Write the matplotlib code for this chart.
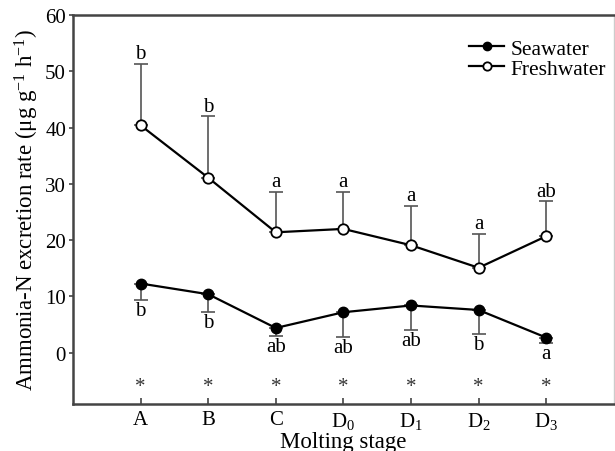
import matplotlib
matplotlib.use("Agg")
import matplotlib.pyplot as plt
import numpy as np

stages = ["A", "B", "C", r"D$_0$", r"D$_1$", r"D$_2$", r"D$_3$"]
fresh = [40.4, 31.1, 21.4, 22.0, 19.1, 15.1, 20.7]
fresh_err = [10.9, 10.9, 7.2, 6.6, 7.0, 6.0, 6.2]
sea = [12.3, 10.4, 4.4, 7.2, 8.4, 7.6, 2.7]
sea_err = [2.9, 3.1, 1.4, 4.4, 4.4, 4.3, 1.0]
fresh_letters = ["b", "b", "a", "a", "a", "a", "ab"]
sea_letters = ["b", "b", "ab", "ab", "ab", "b", "a"]
star_y = -6.0

plt.rcParams["font.family"] = ["Liberation Serif", "DejaVu Serif"]
plt.rcParams["mathtext.fontset"] = "custom"
plt.rcParams["mathtext.rm"] = "Liberation Serif"
plt.rcParams["mathtext.it"] = "Liberation Serif:italic"
plt.rcParams["mathtext.default"] = "regular"

fig = plt.figure(figsize=(6.15, 4.52), dpi=100)
ax = fig.add_axes([0.1187, 0.104, 0.8793, 0.8606])

x = np.arange(1, len(stages) + 1)
errc = "#555555"

ax.errorbar(x, fresh, yerr=[np.zeros(len(x)), fresh_err], fmt="none",
            ecolor=errc, elinewidth=1.2, capsize=5, capthick=1.2, zorder=1)
ax.errorbar(x, sea, yerr=[sea_err, np.zeros(len(x))], fmt="none",
            ecolor=errc, elinewidth=1.2, capsize=5, capthick=1.2, zorder=1)

ax.plot(x, sea, color="black", lw=1.6, marker="o", ms=7.5,
        mfc="black", mec="black", label="Seawater", zorder=3)
ax.plot(x, fresh, color="black", lw=1.6, marker="o", ms=7.5,
        mfc="white", mec="black", mew=1.3, label="Freshwater", zorder=3)

for xi, v, e, l in zip(x, fresh, fresh_err, fresh_letters):
    ax.text(xi, v + e + 0.1, l, ha="center", va="bottom", fontsize=15)
for xi, v, e, l in zip(x, sea, sea_err, sea_letters):
    ax.text(xi, v - e - 0.2, l, ha="center", va="top", fontsize=15)
for xi in x:
    ax.text(xi, star_y, "*", ha="center", va="center", fontsize=15, color="#333333")

ax.set_xlim(0, 8)
ax.set_ylim(-9.1, 60)
ax.set_xticks(x)
ax.set_xticklabels(stages, fontsize=15)
ax.set_yticks([0, 10, 20, 30, 40, 50, 60])
ax.tick_params(axis="y", direction="out", length=3, width=1.2, labelsize=15, pad=2, color="#444444")
ax.tick_params(axis="x", direction="in", length=4, width=1.2, labelsize=15, pad=4, color="#444444")

for s in ["left", "bottom", "top"]:
    ax.spines[s].set_color("#444444")
    ax.spines[s].set_linewidth(1.8)
ax.spines["right"].set_color("#cccccc")
ax.spines["right"].set_linewidth(1.0)

ax.set_ylabel(r"Ammonia-N excretion rate (μg g$^{-1}$ h$^{-1}$)", fontsize=16.5, labelpad=3)
ax.set_xlabel("Molting stage", fontsize=16.5, labelpad=0)

leg = ax.legend(loc="upper right", frameon=False, fontsize=15.5, handlelength=1.6,
                handletextpad=0.3, labelspacing=0.0, borderaxespad=0.6,
                bbox_to_anchor=(1.025, 0.995))
for h in leg.legend_handles:
    h.set_markersize(6)

fig.savefig("out.png", dpi=100)
